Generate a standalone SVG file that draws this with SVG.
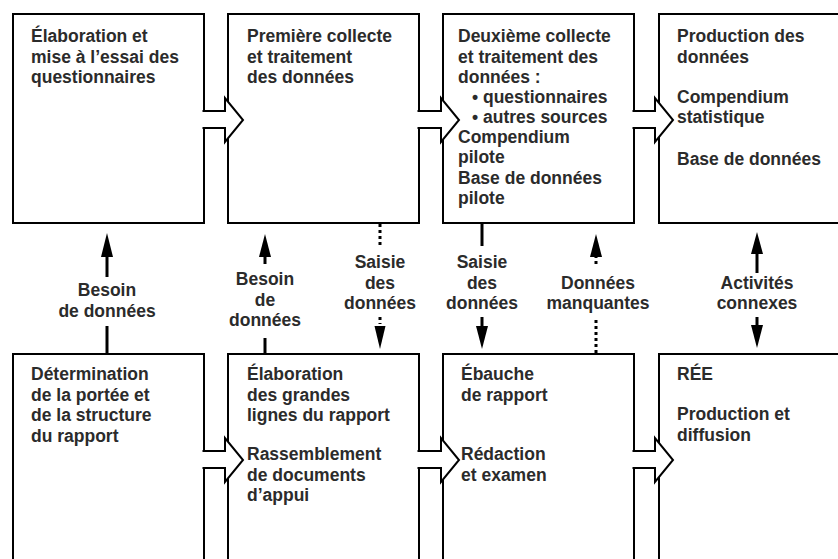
<svg xmlns="http://www.w3.org/2000/svg" width="838" height="559" viewBox="0 0 838 559">
<style>
.box{fill:#fff;stroke:#000;stroke-width:2}
.blk{fill:#fff;stroke:#000;stroke-width:2;stroke-linejoin:miter}
.ln{stroke:#000;stroke-width:3;fill:none}
.dt{stroke:#000;stroke-width:3;fill:none;stroke-dasharray:3 3}
.hd{fill:#000}
text{font-family:"Liberation Sans",Arial,sans-serif;font-weight:700;font-size:17.5px;fill:#2b2b2b}
.c{text-anchor:middle}
</style>
<rect width="838" height="559" fill="#fff"/>
<g id="n1"><rect class="box" x="13" y="14" width="191" height="209"/>
<text><tspan x="31" y="42">Élaboration et</tspan><tspan x="31" y="62.5">mise à l’essai des</tspan><tspan x="31" y="83">questionnaires</tspan></text></g>
<g id="n2"><rect class="box" x="228" y="14" width="191" height="209"/>
<text><tspan x="247" y="42">Première collecte</tspan><tspan x="247" y="62.5">et traitement</tspan><tspan x="247" y="83">des données</tspan></text></g>
<g id="n3"><rect class="box" x="443" y="14" width="191" height="209"/>
<text><tspan x="458" y="42">Deuxième collecte</tspan><tspan x="458" y="62.5">et traitement des</tspan><tspan x="458" y="83">données :</tspan><tspan x="472" y="103">• questionnaires</tspan><tspan x="472" y="123">• autres sources</tspan><tspan x="458" y="143">Compendium</tspan><tspan x="458" y="163">pilote</tspan><tspan x="458" y="183.5">Base de données</tspan><tspan x="458" y="204">pilote</tspan></text></g>
<g id="n4"><rect class="box" x="659" y="14" width="200" height="209"/>
<text><tspan x="677" y="42">Production des</tspan><tspan x="677" y="62.5">données</tspan><tspan x="677" y="103">Compendium</tspan><tspan x="677" y="123">statistique</tspan><tspan x="677" y="164.5">Base de données</tspan></text></g>
<g id="n5"><rect class="box" x="13" y="354" width="191" height="220"/>
<text><tspan x="31" y="380">Détermination</tspan><tspan x="31" y="400.5">de la portée et</tspan><tspan x="31" y="421">de la structure</tspan><tspan x="31" y="441.5">du rapport</tspan></text></g>
<g id="n6"><rect class="box" x="228" y="354" width="191" height="220"/>
<text><tspan x="247" y="380">Élaboration</tspan><tspan x="247" y="400.5">des grandes</tspan><tspan x="247" y="421">lignes du rapport</tspan><tspan x="247" y="460">Rassemblement</tspan><tspan x="247" y="480.5">de documents</tspan><tspan x="247" y="501">d’appui</tspan></text></g>
<g id="n7"><rect class="box" x="443" y="354" width="191" height="220"/>
<text><tspan x="461" y="380">Ébauche</tspan><tspan x="461" y="400.5">de rapport</tspan><tspan x="461" y="460">Rédaction</tspan><tspan x="461" y="480.5">et examen</tspan></text></g>
<g id="n8"><rect class="box" x="659" y="354" width="200" height="220"/>
<text><tspan x="677" y="380">RÉE</tspan><tspan x="677" y="420">Production et</tspan><tspan x="677" y="440.5">diffusion</tspan></text></g>
<g id="connectors">
<path class="blk" d="M202.5,111 H225 V98 L243,120 L225,142 V128 H202.5"/>
<path class="blk" d="M417.5,111 H441 V98 L459,120 L441,142 V128 H417.5"/>
<path class="blk" d="M632.5,111 H655 V98 L673,120 L655,142 V128 H632.5"/>
<path class="blk" d="M202.5,451 H225 V438 L243,460 L225,482 V468 H202.5"/>
<path class="blk" d="M417.5,451 H441 V438 L459,460 L441,482 V468 H417.5"/>
<path class="blk" d="M632.5,451 H655 V438 L673,460 L655,482 V468 H632.5"/>
<line class="ln" x1="107" y1="256" x2="107" y2="277"/>
<polygon class="hd" points="101,257 113,257 107,233"/>
<line class="ln" x1="107" y1="326" x2="107" y2="353"/>
<line class="ln" x1="265" y1="256" x2="265" y2="264"/>
<polygon class="hd" points="259,257 271,257 265,234"/>
<line class="ln" x1="265" y1="338" x2="265" y2="353"/>
<line class="dt" x1="380" y1="224" x2="380" y2="246"/>
<line class="dt" x1="380" y1="317" x2="380" y2="324"/>
<polygon class="hd" points="374.5,326 385.5,326 380,349"/>
<line class="ln" x1="482" y1="224" x2="482" y2="246"/>
<line class="ln" x1="482" y1="317" x2="482" y2="327"/>
<polygon class="hd" points="476,326 488,326 482,349"/>
<line class="ln" x1="596" y1="256" x2="596" y2="258"/>
<polygon class="hd" points="590,257 602,257 596,234"/>
<line class="dt" x1="596" y1="261" x2="596" y2="264"/>
<line class="dt" x1="596" y1="320" x2="596" y2="353"/>
<line class="ln" x1="757" y1="253" x2="757" y2="273"/>
<polygon class="hd" points="751,254 763,254 757,232"/>
<line class="ln" x1="757" y1="317" x2="757" y2="326"/>
<polygon class="hd" points="751,325 763,325 757,348"/>
</g>
<g id="labels">
<text class="c"><tspan x="107" y="296">Besoin</tspan><tspan x="107" y="317">de données</tspan></text>
<text class="c"><tspan x="265" y="285">Besoin</tspan><tspan x="265" y="305.5">de</tspan><tspan x="265" y="326">données</tspan></text>
<text class="c"><tspan x="380" y="268">Saisie</tspan><tspan x="380" y="288.5">des</tspan><tspan x="380" y="309">données</tspan></text>
<text class="c"><tspan x="482" y="268">Saisie</tspan><tspan x="482" y="288.5">des</tspan><tspan x="482" y="309">données</tspan></text>
<text class="c"><tspan x="598" y="289">Données</tspan><tspan x="598" y="309">manquantes</tspan></text>
<text class="c"><tspan x="757" y="289">Activités</tspan><tspan x="757" y="309">connexes</tspan></text>
</g>
</svg>
